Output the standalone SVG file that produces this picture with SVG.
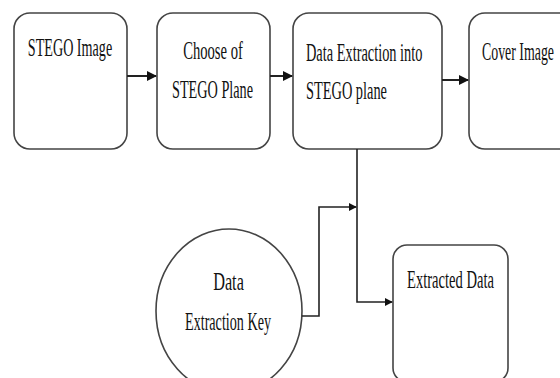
<svg xmlns="http://www.w3.org/2000/svg" width="560" height="378" viewBox="0 0 560 378">
<defs>
<style>
.box{fill:#fff;stroke:#444;stroke-width:1.6}
.t{font-family:"Liberation Serif","Times New Roman",serif;font-size:25px;fill:#111}
.m{text-anchor:middle}
.c{fill:none;stroke:#222;stroke-width:2}
</style>
<marker id="ah" viewBox="0 0 10 10" refX="9" refY="5" markerWidth="5" markerHeight="5" orient="auto" markerUnits="strokeWidth">
<path d="M0,0 L10,5 L0,10 z" fill="#111"/>
</marker>
</defs>
<rect width="560" height="378" fill="#fff"/>
<g id="stego-image">
<rect class="box" x="14" y="13" width="113" height="136" rx="16"/>
<text class="t m" transform="translate(70,56) scale(0.565,1)">STEGO Image</text>
</g>
<g id="choose-plane">
<rect class="box" x="157" y="13" width="113" height="136" rx="16"/>
<text class="t m" transform="translate(213,59) scale(0.585,1)">Choose of</text>
<text class="t m" transform="translate(212.5,98) scale(0.57,1)">STEGO Plane</text>
</g>
<g id="data-extraction">
<rect class="box" x="293" y="13" width="149" height="136" rx="16"/>
<text class="t" transform="translate(306,61) scale(0.575,1)">Data Extraction into</text>
<text class="t" transform="translate(306,99) scale(0.575,1)">STEGO plane</text>
</g>
<g id="cover-image">
<rect class="box" x="469" y="13" width="110" height="136" rx="16"/>
<text class="t" transform="translate(482,60) scale(0.555,1)">Cover Image</text>
</g>
<g id="key">
<ellipse class="box" cx="229" cy="311" rx="73" ry="82"/>
<text class="t m" transform="translate(228.5,290) scale(0.65,1)">Data</text>
<text class="t m" transform="translate(228,330) scale(0.566,1)">Extraction Key</text>
</g>
<g id="extracted-data">
<rect class="box" x="393" y="245" width="115" height="137" rx="14"/>
<text class="t m" transform="translate(450.5,288) scale(0.583,1)">Extracted Data</text>
</g>
<g id="connectors">
<line class="c" x1="127" y1="76" x2="156" y2="76" marker-end="url(#ah)"/>
<line class="c" x1="270" y1="76" x2="292" y2="76" marker-end="url(#ah)"/>
<line class="c" x1="442" y1="80" x2="468" y2="80" marker-end="url(#ah)"/>
<polyline class="c" points="357,149 357,302 392,302" marker-end="url(#ah)" style="stroke-width:1.6"/>
<polyline class="c" points="302,316 319,316 319,207 356,207" marker-end="url(#ah)" style="stroke-width:1.6"/>
</g>
</svg>
